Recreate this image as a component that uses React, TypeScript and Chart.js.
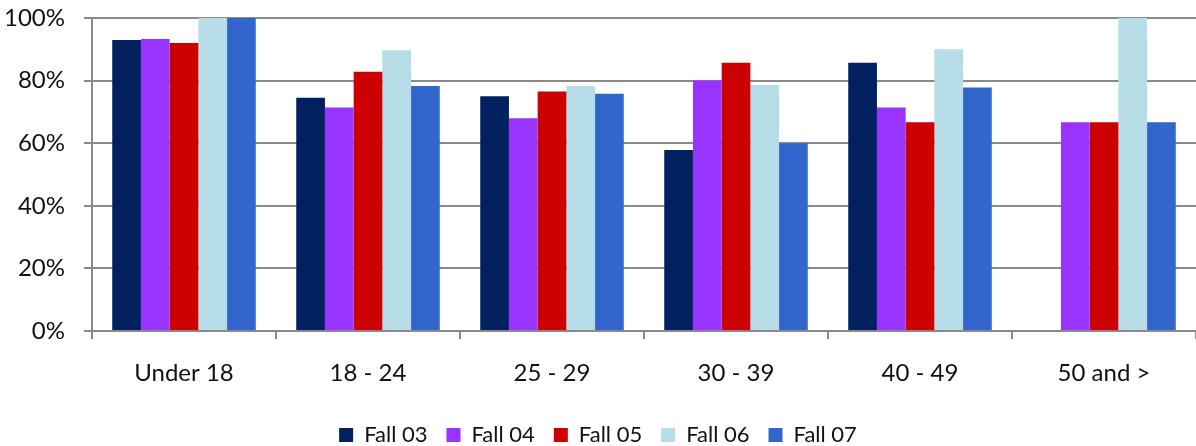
import React, { useEffect, useRef } from "react";
import { Chart, registerables } from "chart.js";

Chart.register(...registerables);

const categories = ["Under 18", "18 - 24", "25 - 29", "30 - 39", "40 - 49", "50 and >"];
const seriesNames = ["Fall 03", "Fall 04", "Fall 05", "Fall 06", "Fall 07"];
const fall03 = [93, 74.5, 75, 57.8, 85.7, null];
const fall04 = [93.3, 71.4, 68, 80, 71.4, 66.7];
const fall05 = [92, 82.8, 76.5, 85.7, 66.7, 66.7];
const fall06 = [100, 89.7, 78.3, 78.6, 90, 100];
const fall07 = [100, 78.3, 75.8, 60, 77.8, 66.7];
const colors = ["#002060", "#9933FF", "#CC0000", "#B7DDE8", "#3366CC"];
const yTicks = [0, 20, 40, 60, 80, 100];

const FONT = "Lato";

export default function App() {
  const ref = useRef<HTMLCanvasElement>(null);
  useEffect(() => {
    if (!ref.current) return;
    const values = [fall03, fall04, fall05, fall06, fall07];
    const chart = new Chart(ref.current, {
      type: "bar",
      data: {
        labels: categories,
        datasets: values.map((v, i) => ({
          label: seriesNames[i],
          data: v,
          backgroundColor: colors[i],
          borderWidth: 0,
          categoryPercentage: 0.78,
          barPercentage: 1,
        })),
      },
      options: {
        responsive: false,
        animation: false,
        devicePixelRatio: 1,
        layout: { padding: { top: 18, right: 0, left: 0, bottom: -10 } },
        plugins: {
          tooltip: { enabled: false },
          legend: {
            position: "bottom",
            labels: {
              font: { family: FONT, size: 22 },
              color: "#111",
              boxWidth: 14,
              boxHeight: 14,
              padding: 19,
            },
          },
        },
        scales: {
          x: {
            grid: {
              display: true,
              drawOnChartArea: false,
              drawTicks: true,
              tickLength: 8,
              color: "#8a8a8a",
              lineWidth: 2,
              offset: true,
            },
            border: { display: true, color: "#8a8a8a", width: 2 },
            ticks: {
              font: { family: FONT, size: 24 },
              color: "#111",
              padding: 20,
              maxRotation: 0,
            },
            afterFit: (axis: any) => {
              axis.height = 74;
              axis.paddingLeft = 0;
              axis.paddingRight = 0;
            },
          },
          y: {
            min: 0,
            max: 100,
            afterBuildTicks: (axis: any) => {
              axis.ticks = yTicks.map((v) => ({ value: v }));
            },
            afterFit: (axis: any) => {
              axis.width = 92;
              axis.paddingTop = 0;
              axis.paddingBottom = 0;
            },
            grid: {
              color: "#8a8a8a",
              lineWidth: 2,
              drawTicks: true,
              tickLength: 8,
            },
            border: { display: true, color: "#8a8a8a", width: 2 },
            ticks: {
              font: { family: FONT, size: 24 },
              color: "#111",
              padding: 19,
              callback: (v: any) => v + "%",
            },
          },
        },
      },
    });
    return () => chart.destroy();
  }, []);
  return (
    <div style={{ position: "absolute", left: 0, top: 0, width: 1196, height: 446 }}>
      <canvas ref={ref} width={1196} height={446} style={{ width: 1196, height: 446 }} />
    </div>
  );
}
